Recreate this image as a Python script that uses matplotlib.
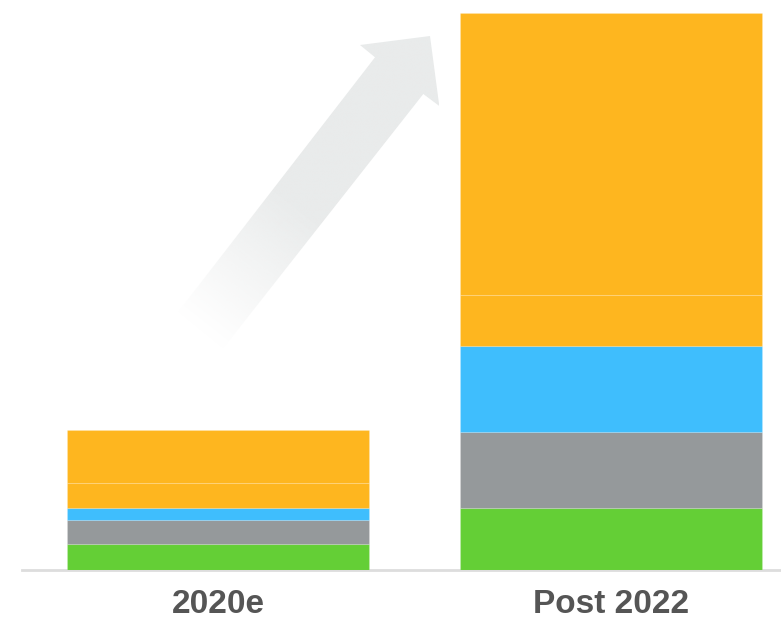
import numpy as np
import matplotlib
matplotlib.use("Agg")
import matplotlib.pyplot as plt
from matplotlib.patches import Polygon

# stacked values per period (bottom to top)
categories = ["2020e", "Post 2022"]
green = [26, 62]
gray = [24, 76]
blue = [12, 86]
orange_lower = [25, 51]
orange_upper = [53, 282]

series = [green, gray, blue, orange_lower, orange_upper]
colors = ["#64CF36", "#95999B", "#3FBEFD", "#FEB61F", "#FEB61F"]

W, H = 781, 620
fig = plt.figure(figsize=(W / 100, H / 100), dpi=100)

# background layer in pixel units for the decorative arrow
ax_bg = fig.add_axes([0, 0, 1, 1])
ax_bg.set_xlim(0, W)
ax_bg.set_ylim(H, 0)
ax_bg.axis("off")

arrow_pts = np.array([
    (178.3, 311.7), (375.0, 57.3), (360.0, 45.0), (430.0, 36.0),
    (439.3, 106.0), (423.3, 94.0), (223.3, 348.3),
])
arrow = Polygon(arrow_pts, closed=True, facecolor="none", edgecolor="none")
ax_bg.add_patch(arrow)

# fade the arrow from the tail upwards
x0, x1 = arrow_pts[:, 0].min(), arrow_pts[:, 0].max()
y0, y1 = arrow_pts[:, 1].min(), arrow_pts[:, 1].max()
gx, gy = np.meshgrid(np.linspace(x0, x1, 300), np.linspace(y0, y1, 400))
tail = np.array([200.8, 330.0])
d = np.array([600.0, -763.0])
d /= np.linalg.norm(d)
t = (gx - tail[0]) * d[0] + (gy - tail[1]) * d[1]
alpha = np.clip(t / 160.0, 0.03, 1.0)
img = np.zeros(gx.shape + (4,))
img[..., 0] = 0xE9 / 255
img[..., 1] = 0xEB / 255
img[..., 2] = 0xEB / 255
img[..., 3] = alpha
im = ax_bg.imshow(img, extent=(x0, x1, y1, y0), interpolation="bilinear", zorder=1)
im.set_clip_path(arrow)

# main chart
ax = fig.add_axes([22 / W, (H - 569.5) / H, (W - 22) / W, 569.5 / H])
ax.patch.set_visible(False)

x = np.arange(len(categories))
bottom = np.zeros(len(categories))
for vals, c in zip(series, colors):
    ax.bar(x, vals, width=0.77, bottom=bottom, color=c,
           edgecolor=(1, 1, 1, 0.15), linewidth=0.8, zorder=2)
    bottom += np.array(vals)

ax.set_xlim(-0.5, 1.433)
ax.set_ylim(0, 569.5)
ax.set_yticks([])
ax.set_xticks(x)
ax.set_xticklabels(categories, fontsize=24, fontweight="bold",
                   color="#555555", family="Liberation Sans")
ax.tick_params(axis="x", length=0, pad=14)
for s in ["top", "right", "left"]:
    ax.spines[s].set_visible(False)
ax.spines["bottom"].set_color("#DDDDDD")
ax.spines["bottom"].set_linewidth(2)
ax.spines["bottom"].set_zorder(1)

fig.savefig("out.png", dpi=100)
